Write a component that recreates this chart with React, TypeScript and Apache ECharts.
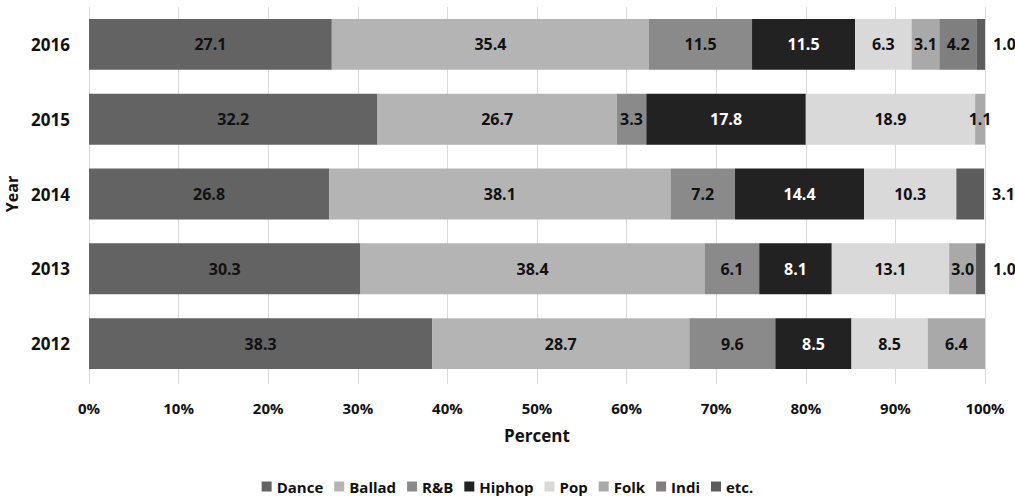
import React, { useEffect, useRef } from "react";
import * as echarts from "echarts";

// Music genre share by year (percent of entries)
const years = ["2012", "2013", "2014", "2015", "2016"];
const genres = ["Dance", "Ballad", "R&B", "Hiphop", "Pop", "Folk", "Indi", "etc."];

const dance = [38.3, 30.3, 26.8, 32.2, 27.1];
const ballad = [28.7, 38.4, 38.1, 26.7, 35.4];
const rnb = [9.6, 6.1, 7.2, 3.3, 11.5];
const hiphop = [8.5, 8.1, 14.4, 17.8, 11.5];
const pop = [8.5, 13.1, 10.3, 18.9, 6.3];
const folk = [6.4, 3.0, 0, 1.1, 3.1];
const indi = [0, 0, 0, 0, 4.2];
const etc = [0, 1.0, 3.1, 0, 1.0];

const genreValues = [dance, ballad, rnb, hiphop, pop, folk, indi, etc];
const genreColors = ["#636363", "#b4b4b4", "#8a8a8a", "#222222", "#d9d9d9", "#a9a9a9", "#7f7f7f", "#5c5c5c"];
const labelColors = ["#111", "#111", "#111", "#fff", "#111", "#111", "#111", "#111"];

const xTicks = [0, 10, 20, 30, 40, 50, 60, 70, 80, 90, 100];

const FONT = "'Open Sans', 'Noto Sans', sans-serif";

export default function App() {
  const ref = useRef<HTMLDivElement>(null);

  useEffect(() => {
    if (!ref.current) return;
    const chart = echarts.init(ref.current, null, { renderer: "svg" });

    const series = genres.map((name, i) => ({
      name,
      type: "bar",
      stack: "total",
      barCategoryGap: "32%",
      data: genreValues[i],
      itemStyle: { color: genreColors[i] },
      label: {
        show: true,
        position: name === "etc." ? "right" : "inside",
        distance: 8,
        color: labelColors[i],
        fontFamily: FONT,
        fontWeight: "bold",
        fontSize: 16,
        formatter: (p: any) => (p.value > 0 ? Number(p.value).toFixed(1) : ""),
      },
      emphasis: { disabled: true },
    }));

    chart.setOption({
      animation: false,
      textStyle: { fontFamily: FONT },
      grid: {
        left: 89,
        right: 30,
        top: 7,
        bottom: 115,
        containLabel: false,
        outerBoundsMode: "none",
      },
      legend: {
        data: genres,
        top: 474,
        left: "center",
        icon: "rect",
        itemWidth: 10,
        itemHeight: 10,
        itemGap: 11,
        textStyle: { fontFamily: FONT, fontWeight: "bold", fontSize: 15, color: "#111" },
      },
      xAxis: {
        type: "value",
        min: xTicks[0],
        max: xTicks[xTicks.length - 1],
        interval: 10,
        name: "Percent",
        nameLocation: "middle",
        nameGap: 46,
        nameTextStyle: { fontFamily: FONT, fontWeight: "bold", fontSize: 17, color: "#111" },
        axisLine: { show: false },
        axisTick: { show: true, length: 3, lineStyle: { color: "#d9d9d9" } },
        splitLine: { show: true, lineStyle: { color: "#d9d9d9", width: 1 } },
        axisLabel: {
          margin: 19,
          formatter: (v: number) => `${v}%`,
          fontFamily: FONT,
          fontWeight: "bold",
          fontSize: 15,
          color: "#111",
        },
      },
      yAxis: {
        type: "category",
        data: years,
        name: "Year",
        nameLocation: "middle",
        nameGap: 66,
        nameTextStyle: { fontFamily: FONT, fontWeight: "bold", fontSize: 16, color: "#111" },
        axisLine: { show: false },
        axisTick: { show: false },
        axisLabel: {
          margin: 19,
          fontFamily: FONT,
          fontWeight: "bold",
          fontSize: 17,
          color: "#111",
        },
      },
      series,
    });

    return () => chart.dispose();
  }, []);

  return (
    <div
      ref={ref}
      style={{ position: "fixed", left: 0, top: 0, width: 1015, height: 496, background: "#fff" }}
    />
  );
}
